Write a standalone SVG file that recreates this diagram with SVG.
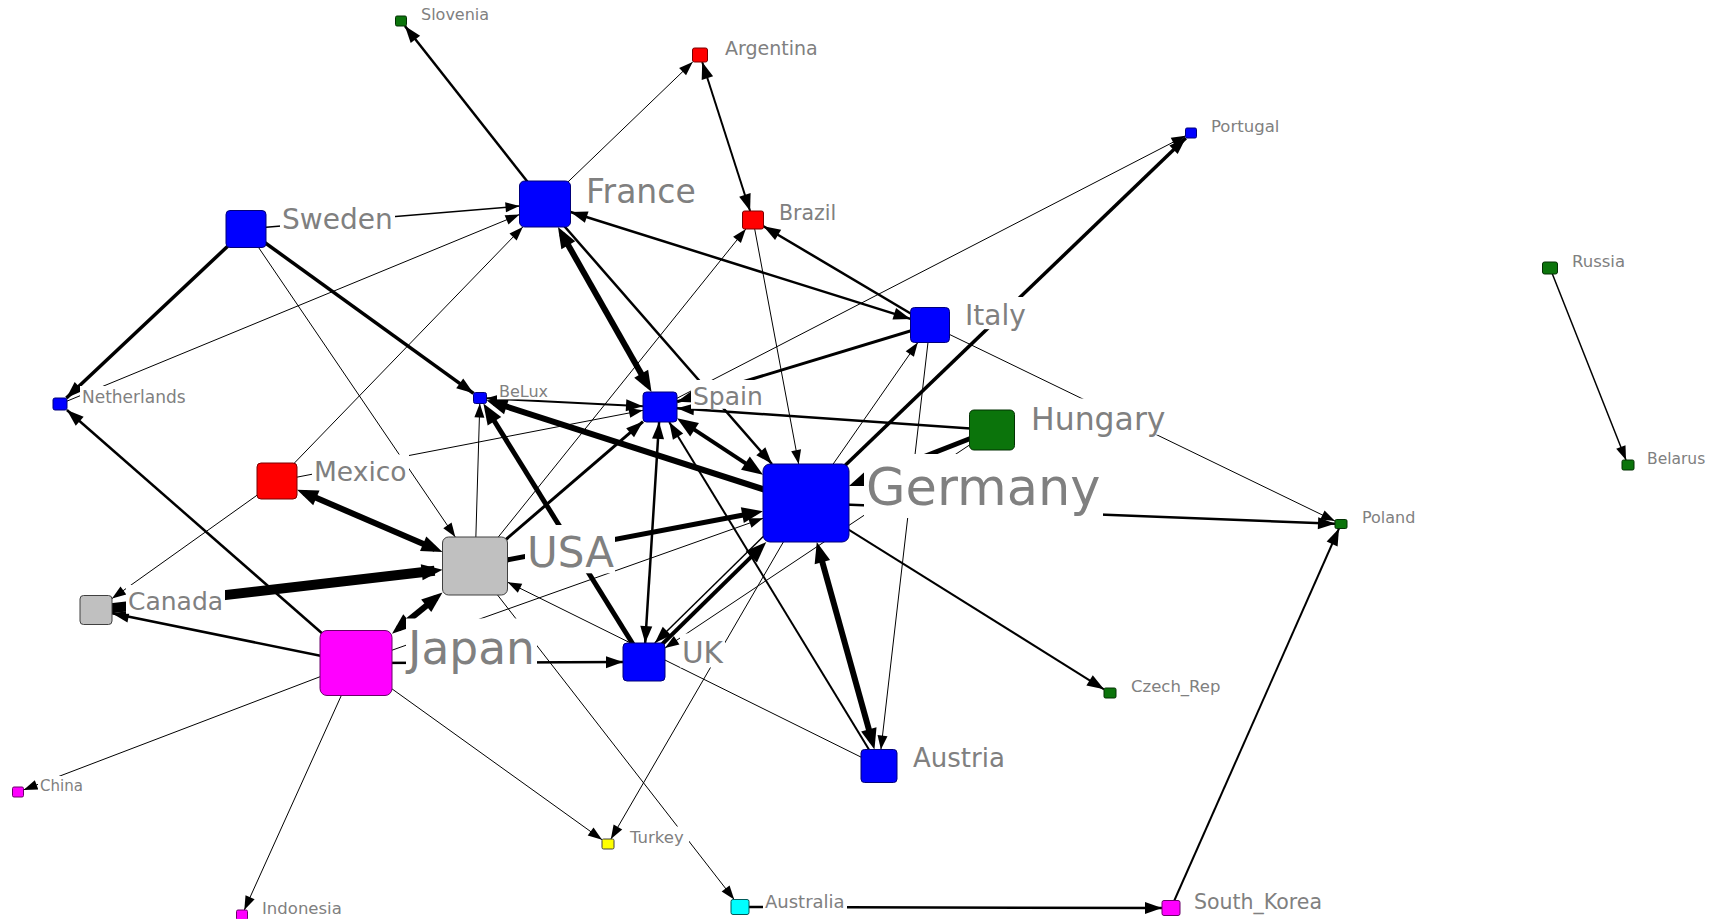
<svg xmlns="http://www.w3.org/2000/svg" width="1721" height="919" viewBox="0 0 1721 919">
  <style>
    .e { fill: none; stroke: #000; stroke-linecap: butt; }
    .s { marker-end: url(#as); }
    .m { marker-end: url(#am); }
    .l { marker-end: url(#al); }
    .mb { marker-start: url(#am); marker-end: url(#am); }
    .lb { marker-start: url(#al); marker-end: url(#al); }
    .lbl { font-family: "DejaVu Sans", "Liberation Sans", sans-serif; fill: #808080; }
    .bg { fill: #fff; }
    .blue { fill: #0000ff; stroke: #00007a; stroke-width: 1; }
    .red { fill: #ff0000; stroke: #7a0000; stroke-width: 1; }
    .green { fill: #0b740b; stroke: #033003; stroke-width: 1; }
    .gray { fill: #c0c0c0; stroke: #404040; stroke-width: 1; }
    .mag { fill: #ff00ff; stroke: #6a006a; stroke-width: 1; }
    .yel { fill: #ffff00; stroke: #404040; stroke-width: 1; }
    .cyan { fill: #00ffff; stroke: #005a5a; stroke-width: 1; }
  </style>
  <defs>
    <marker id="as" markerUnits="userSpaceOnUse" markerWidth="14" markerHeight="10" refX="14" refY="5" orient="auto-start-reverse" overflow="visible">
      <path d="M0,0 L14,5 L0,10 z" fill="#000"/>
    </marker>
    <marker id="am" markerUnits="userSpaceOnUse" markerWidth="17" markerHeight="12" refX="17" refY="6" orient="auto-start-reverse" overflow="visible">
      <path d="M0,0 L17,6 L0,12 z" fill="#000"/>
    </marker>
    <marker id="al" markerUnits="userSpaceOnUse" markerWidth="21" markerHeight="16" refX="13" refY="8" orient="auto-start-reverse" overflow="visible">
      <path d="M0,0 L21,8 L0,16 z" fill="#000"/>
    </marker>
  </defs>
  <rect width="1721" height="919" fill="#fff"/>

  <g id="connectors">
    <path class="e m" stroke-width="2.5" d="M545 204 L404.9 26"/>
    <path class="e s" stroke-width="1" d="M545 204 L692.7 62"/>
    <path class="e s" stroke-width="1" d="M277 481 L522.8 227"/>
    <path class="e s" stroke-width="1.5" d="M246 229 L519.5 206.1"/>
    <path class="e s" stroke-width="1" d="M60 404 L519.5 214.5"/>
    <path class="e m" stroke-width="3.5" d="M246 229 L66.4 398"/>
    <path class="e m" stroke-width="3.5" d="M246 229 L473.5 393.3"/>
    <path class="e s" stroke-width="1" d="M246 229 L455.3 537"/>
    <path class="e m" stroke-width="2.5" d="M356 663 L66.9 410"/>
    <path class="e m" stroke-width="2.5" d="M356 663 L112 613.3"/>
    <path class="e s" stroke-width="1" d="M277 481 L112 598.6"/>
    <path class="e l" stroke-width="10" d="M96 610 L434.6 570.7"/>
    <path class="e m" stroke-width="2.5" d="M356 663 L623 662.1"/>
    <path class="e s" stroke-width="1" d="M356 663 L763 518.3"/>
    <path class="e s" stroke-width="1" d="M356 663 L23.5 789.9"/>
    <path class="e s" stroke-width="1" d="M356 663 L244.3 910"/>
    <path class="e s" stroke-width="1" d="M356 663 L602 839.7"/>
    <path class="e s" stroke-width="1" d="M475 566 L734.2 899.5"/>
    <path class="e s" stroke-width="1" d="M806 503 L610.9 839"/>
    <path class="e m" stroke-width="2.5" d="M740 907 L1162 908"/>
    <path class="e m" stroke-width="2" d="M1171 908 L1339 528.5"/>
    <path class="e m" stroke-width="2.5" d="M806 503 L1335 523.8"/>
    <path class="e s" stroke-width="1" d="M930 325 L1335 521.1"/>
    <path class="e s" stroke-width="1.5" d="M1550 268 L1626 460"/>
    <path class="e m" stroke-width="2" d="M806 503 L1104 689.3"/>
    <path class="e m" stroke-width="3.5" d="M806 503 L1185.8 138"/>
    <path class="e s" stroke-width="1" d="M660 407 L1185.5 135.8"/>
    <path class="e m" stroke-width="3" d="M930 325 L677 401.8"/>
    <path class="e m" stroke-width="2.5" d="M992 430 L677 408.2"/>
    <path class="e s" stroke-width="1" d="M753 220 L798.7 464"/>
    <path class="e m" stroke-width="2.5" d="M930 325 L763.5 226.2"/>
    <path class="e s" stroke-width="1" d="M475 566 L745.8 229"/>
    <path class="e m" stroke-width="3" d="M475 566 L643 421.6"/>
    <path class="e s" stroke-width="1" d="M475 566 L479.8 403.5"/>
    <path class="e l" stroke-width="5" d="M644 662 L487.6 410.3"/>
    <path class="e l" stroke-width="6" d="M806 503 L494.1 402.6"/>
    <path class="e s" stroke-width="1" d="M277 481 L643 410.3"/>
    <path class="e m" stroke-width="2.5" d="M545 204 L772 464"/>
    <path class="e l" stroke-width="4" d="M644 662 L760.6 547.6"/>
    <path class="e m" stroke-width="1.5" d="M801.8 498.7 L654.8 643"/>
    <path class="e s" stroke-width="1" d="M879 766 L507.5 582.1"/>
    <path class="e s" stroke-width="1" d="M992 430 L665 648"/>
    <path class="e m" stroke-width="2" d="M879 766 L669.2 422"/>
    <path class="e s" stroke-width="1" d="M930 325 L880.9 749.5"/>
    <path class="e s" stroke-width="1" d="M806 503 L917.8 342.5"/>
    <path class="e l" stroke-width="5" d="M992 430 L856.4 483.2"/>
    <path class="e l" stroke-width="5" d="M475 566 L755.1 512.7"/>
    <!-- two-way links -->
    <path class="e lb" stroke-width="6" d="M304.4 492.8 L435.1 548.9"/>
    <path class="e lb" stroke-width="6" d="M398.2 628.6 L436.3 597.6"/>
    <path class="e mb" stroke-width="2" d="M702.2 62 L750.1 211"/>
    <path class="e mb" stroke-width="2.5" d="M570.5 212 L910.5 318.9"/>
    <path class="e mb" stroke-width="2" d="M643 406.2 L486.5 398.3"/>
    <path class="e lb" stroke-width="4" d="M756.3 470.3 L683.7 422.6"/>
    <path class="e lb" stroke-width="6" d="M561.9 234 L647.6 385"/>
    <path class="e mb" stroke-width="2.5" d="M659.1 422 L645.2 643"/>
    <path class="e lb" stroke-width="6" d="M818.9 549.7 L872.3 741.8"/>
  </g>

  <g id="node-slovenia"><rect class="green" x="395.5" y="16" width="11" height="10" rx="1.5"/><rect class="bg" x="419" y="4" width="72" height="18.4"/><text class="lbl" x="421" y="20" font-size="16">Slovenia</text></g>
  <g id="node-argentina"><rect class="red" x="692.5" y="48" width="15" height="14" rx="2"/><rect class="bg" x="723" y="36" width="97" height="21.9"/><text class="lbl" x="725" y="55" font-size="19">Argentina</text></g>
  <g id="node-portugal"><rect class="blue" x="1185.5" y="128" width="11" height="10" rx="1.5"/><rect class="bg" x="1209" y="115.5" width="73" height="19"/><text class="lbl" x="1211" y="132" font-size="16.5">Portugal</text></g>
  <g id="node-france"><rect class="blue" x="519.5" y="181" width="51" height="46" rx="5"/><rect class="bg" x="584" y="170" width="116" height="38"/><text class="lbl" x="586" y="203" font-size="33">France</text></g>
  <g id="node-sweden"><rect class="blue" x="226" y="210.5" width="40" height="37" rx="4"/><rect class="bg" x="280" y="201" width="115" height="32.2"/><text class="lbl" x="282" y="229" font-size="28">Sweden</text></g>
  <g id="node-brazil"><rect class="red" x="742.5" y="211" width="21" height="18" rx="2"/><rect class="bg" x="777" y="199.5" width="61" height="23.6"/><text class="lbl" x="779" y="220" font-size="20.5">Brazil</text></g>
  <g id="node-russia"><rect class="green" x="1542.5" y="262" width="15" height="12" rx="2"/><rect class="bg" x="1570" y="250.5" width="58" height="19"/><text class="lbl" x="1572" y="267" font-size="16.5">Russia</text></g>
  <g id="node-italy"><rect class="blue" x="910.5" y="307.5" width="39" height="35" rx="4"/><rect class="bg" x="963" y="297" width="65" height="32.2"/><text class="lbl" x="965" y="325" font-size="28">Italy</text></g>
  <g id="node-netherlands"><rect class="blue" x="53" y="398" width="14" height="12" rx="2"/><rect class="bg" x="80" y="386" width="108" height="19.6"/><text class="lbl" x="82" y="403" font-size="17">Netherlands</text></g>
  <g id="node-belux"><rect class="blue" x="473.5" y="392.5" width="13" height="11" rx="2"/><rect class="bg" x="497" y="381" width="53" height="18.4"/><text class="lbl" x="499" y="397" font-size="16">BeLux</text></g>
  <g id="node-spain"><rect class="blue" x="643" y="392" width="34" height="30" rx="3.5"/><rect class="bg" x="691" y="380" width="74" height="28.8"/><text class="lbl" x="693" y="405" font-size="25">Spain</text></g>
  <g id="node-hungary"><rect class="green" x="969.5" y="410" width="45" height="40" rx="4.5"/><rect class="bg" x="1029" y="398.5" width="139" height="36.2"/><text class="lbl" x="1031" y="430" font-size="31.5">Hungary</text></g>
  <g id="node-belarus"><rect class="green" x="1622" y="460" width="12" height="10" rx="1.5"/><rect class="bg" x="1645" y="448.5" width="62" height="17.8"/><text class="lbl" x="1647" y="464" font-size="15.5">Belarus</text></g>
  <g id="node-mexico"><rect class="red" x="257" y="463" width="40" height="36" rx="4"/><rect class="bg" x="312" y="454.5" width="97" height="30.5"/><text class="lbl" x="314" y="481" font-size="26.5">Mexico</text></g>
  <g id="node-germany"><rect class="blue" x="763" y="464" width="86" height="78" rx="7"/><rect class="bg" x="864" y="454" width="239" height="64"/><text class="lbl" x="866" y="505" font-size="51">Germany</text></g>
  <g id="node-poland"><rect class="green" x="1335" y="519.5" width="12" height="9" rx="1.5"/><rect class="bg" x="1360" y="507" width="58" height="18.4"/><text class="lbl" x="1362" y="523" font-size="16">Poland</text></g>
  <g id="node-usa"><rect class="gray" x="442.5" y="537" width="65" height="58" rx="6"/><rect class="bg" x="525" y="525" width="90" height="48.3"/><text class="lbl" x="527" y="567" font-size="42">USA</text></g>
  <g id="node-canada"><rect class="gray" x="80" y="595.5" width="32" height="29" rx="3.5"/><rect class="bg" x="126" y="585" width="99" height="28.8"/><text class="lbl" x="128" y="610" font-size="25">Canada</text></g>
  <g id="node-japan"><rect class="mag" x="320" y="630.5" width="72" height="65" rx="7"/><rect class="bg" x="406" y="618.5" width="131" height="52.3"/><text class="lbl" x="408" y="664" font-size="45.5">Japan</text></g>
  <g id="node-uk"><rect class="blue" x="623" y="643" width="42" height="38" rx="4"/><rect class="bg" x="680" y="633.5" width="45" height="34"/><text class="lbl" x="682" y="663" font-size="29.5">UK</text></g>
  <g id="node-czech-rep"><rect class="green" x="1104" y="688" width="12" height="10" rx="1.5"/><rect class="bg" x="1129" y="675.5" width="94" height="19"/><text class="lbl" x="1131" y="692" font-size="16.5">Czech_Rep</text></g>
  <g id="node-austria"><rect class="blue" x="861" y="749.5" width="36" height="33" rx="3.5"/><rect class="bg" x="911" y="741" width="96" height="30"/><text class="lbl" x="913" y="767" font-size="26">Austria</text></g>
  <g id="node-china"><rect class="mag" x="12.5" y="787" width="11" height="10" rx="1.5"/><rect class="bg" x="38" y="776" width="47" height="17.3"/><text class="lbl" x="40" y="791" font-size="15">China</text></g>
  <g id="node-turkey"><rect class="yel" x="602" y="839" width="12" height="10" rx="1.5"/><rect class="bg" x="628" y="826.5" width="61" height="19"/><text class="lbl" x="630" y="843" font-size="16.5">Turkey</text></g>
  <g id="node-indonesia"><rect class="mag" x="236.5" y="910" width="11" height="10" rx="1.5"/><rect class="bg" x="260" y="897.5" width="84" height="19"/><text class="lbl" x="262" y="914" font-size="16.5">Indonesia</text></g>
  <g id="node-australia"><rect class="cyan" x="731" y="899.5" width="18" height="15" rx="2"/><rect class="bg" x="763" y="890" width="84" height="20.7"/><text class="lbl" x="765" y="908" font-size="18">Australia</text></g>
  <g id="node-south-korea"><rect class="mag" x="1162" y="900.5" width="18" height="15" rx="2"/><rect class="bg" x="1192" y="888.5" width="133" height="23.6"/><text class="lbl" x="1194" y="909" font-size="20.5">South_Korea</text></g>
</svg>
